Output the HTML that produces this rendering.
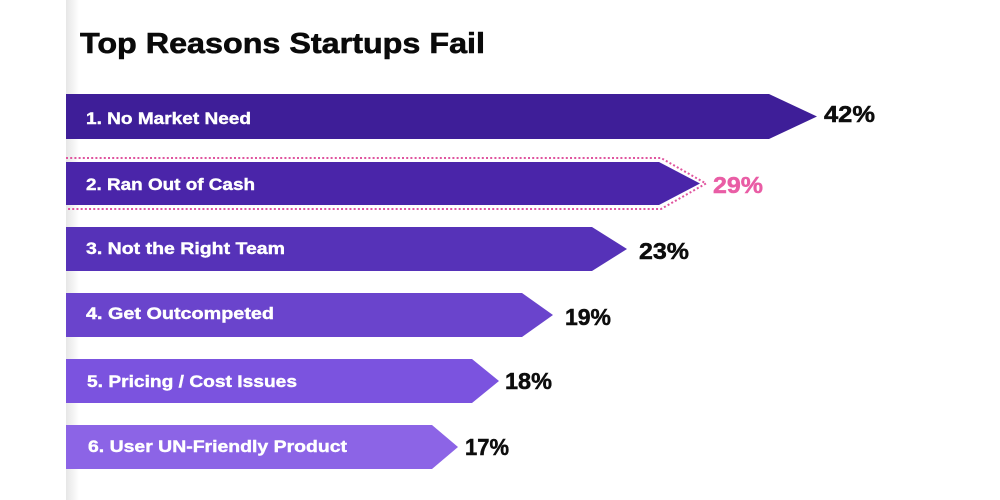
<!DOCTYPE html>
<html>
<head>
<meta charset="utf-8">
<style>
  html, body { margin:0; padding:0; background:#fff; }
  svg { display:block; }
  text { font-family: "Liberation Sans", "DejaVu Sans", sans-serif; font-weight:700; }
</style>
</head>
<body>
<svg width="1000" height="500" viewBox="0 0 1000 500" xmlns="http://www.w3.org/2000/svg">
  <defs>
    <linearGradient id="shadow" x1="0" y1="0" x2="1" y2="0">
      <stop offset="0" stop-color="#e6e6e6"/>
      <stop offset="1" stop-color="#ffffff"/>
    </linearGradient>
  </defs>
  <rect x="0" y="0" width="1000" height="500" fill="#ffffff"/>
  <rect x="66" y="0" width="13" height="500" fill="url(#shadow)"/>

  <text x="80" y="53" font-size="29" fill="#0a0a0a" stroke="#0a0a0a" stroke-width="0.6" textLength="405" lengthAdjust="spacingAndGlyphs">Top Reasons Startups Fail</text>

  <!-- Bars -->
  <polygon points="66,94 769,94 817,116.5 769,139 66,139" fill="#3e1e98"/>
  <polyline points="66,158 661,158 706,183.5 661,209 66,209" fill="none" stroke="#e0559f" stroke-width="2" stroke-dasharray="2 2.2"/>
  <polygon points="66,162 659,162 700,183.5 659,205 66,205" fill="#4a25a9"/>
  <polygon points="66,227 592,227 627,249 592,271 66,271" fill="#5632b8"/>
  <polygon points="66,293 522,293 553,315 522,337 66,337" fill="#6a44cc"/>
  <polygon points="66,359 472,359 499,381 472,403 66,403" fill="#7b53df"/>
  <polygon points="66,425 432,425 458,447 432,469 66,469" fill="#8c64e6"/>

  <!-- Labels -->
  <g fill="#ffffff" stroke="#ffffff" stroke-width="0.4" font-size="16.5">
    <text x="86" y="124" textLength="165" lengthAdjust="spacingAndGlyphs">1. No Market Need</text>
    <text x="86" y="190" textLength="169" lengthAdjust="spacingAndGlyphs">2. Ran Out of Cash</text>
    <text x="86" y="254" textLength="199" lengthAdjust="spacingAndGlyphs">3. Not the Right Team</text>
    <text x="86" y="319" textLength="188" lengthAdjust="spacingAndGlyphs">4. Get Outcompeted</text>
    <text x="87" y="387" textLength="210" lengthAdjust="spacingAndGlyphs">5. Pricing / Cost Issues</text>
    <text x="88" y="452" textLength="259" lengthAdjust="spacingAndGlyphs">6. User UN-Friendly Product</text>
  </g>

  <!-- Percentages -->
  <g font-size="23" fill="#0d0d0d" stroke="#0d0d0d" stroke-width="0.5">
    <text x="824" y="122" textLength="51" lengthAdjust="spacingAndGlyphs">42%</text>
    <text x="713" y="193" textLength="50" lengthAdjust="spacingAndGlyphs" fill="#e95da5" stroke="#e95da5">29%</text>
    <text x="639" y="259" textLength="50" lengthAdjust="spacingAndGlyphs">23%</text>
    <text x="565" y="325" textLength="46" lengthAdjust="spacingAndGlyphs">19%</text>
    <text x="505" y="389" textLength="47" lengthAdjust="spacingAndGlyphs">18%</text>
    <text x="465" y="455" textLength="44" lengthAdjust="spacingAndGlyphs">17%</text>
  </g>
</svg>
</body>
</html>
